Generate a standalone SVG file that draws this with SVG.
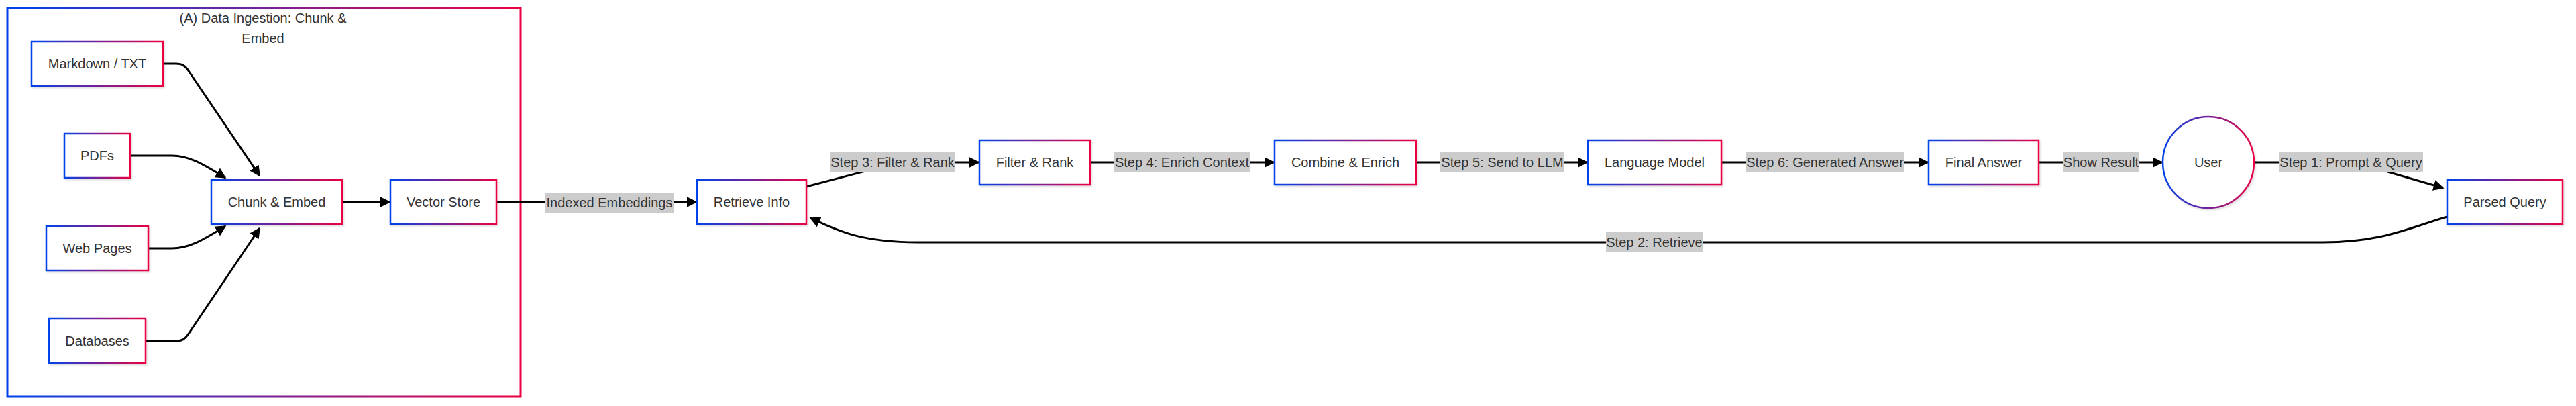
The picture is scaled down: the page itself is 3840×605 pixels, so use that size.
<svg xmlns="http://www.w3.org/2000/svg" width="3840" height="605" viewBox="0 0 3840 605">
<style>
text{font-family:"Liberation Sans",Arial,sans-serif;font-size:20px;fill:#333;text-anchor:middle;dominant-baseline:central}
.node rect,.node circle{fill:#fff;stroke:url(#grad);stroke-width:2.5;filter:url(#shadow)}
.cluster rect{fill:none;stroke:url(#grad);stroke-width:3}
.edge{fill:none;stroke:#000;stroke-width:3;marker-end:url(#arrow)}
.lbl rect{fill:#ccc}
</style>
<defs>
<linearGradient id="grad" x1="0" y1="0" x2="1" y2="0">
<stop offset="0" stop-color="#0042eb"/>
<stop offset="1" stop-color="#eb0042"/>
</linearGradient>
<filter id="shadow" x="-10%" y="-10%" width="130%" height="140%">
<feDropShadow dx="1.5" dy="2" stdDeviation="1.5" flood-color="#000" flood-opacity="0.15"/>
</filter>
<marker id="arrow" viewBox="0 0 10 10" refX="9" refY="5" markerUnits="userSpaceOnUse" markerWidth="16" markerHeight="16" orient="auto">
<path d="M0,0 L10,5 L0,10 z" fill="#000"/>
</marker>
</defs>
<rect width="3840" height="605" fill="#fff"/>
<g id="cluster-ingestion" class="cluster">
<rect x="11" y="12" width="765" height="579"/>
<text x="392" y="27" fill="#222">(A) Data Ingestion: Chunk &amp;</text>
<text x="392" y="57" fill="#222">Embed</text>
</g>
<g id="connectors">
<path class="edge" d="M243,95 L262,95 C272,95 276,98 282,107 L387,262"/>
<path class="edge" d="M194,232 L256,232 C282,232 302,244 336,265"/>
<path class="edge" d="M221,370 L256,370 C282,370 302,358 336,337"/>
<path class="edge" d="M217,508 L262,508 C272,508 276,505 282,496 L387,340"/>
<path class="edge" d="M510,301 L581,301"/>
<path class="edge" d="M740,301 L1038,301"/>
<path class="edge" d="M1202,278 L1290,255 C1310,249 1320,242 1340,242 L1459,242"/>
<path class="edge" d="M1625,242 L1899,242"/>
<path class="edge" d="M2111,242 L2366,242"/>
<path class="edge" d="M2566,242 L2874,242"/>
<path class="edge" d="M3039,242 L3223,242"/>
<path class="edge" d="M3360,242 L3480,242 C3520,242 3540,250 3559,256 L3642,280"/>
<path class="edge" d="M3648,323 C3590,340 3550,361 3463,361 L1368,361 C1280,361 1245,342 1208,325"/>
<g class="lbl"><rect x="813" y="287" width="191" height="30"/><text x="908.5" y="302">Indexed Embeddings</text></g>
<g class="lbl"><rect x="1237" y="227" width="187" height="30"/><text x="1330.5" y="242">Step 3: Filter &amp; Rank</text></g>
<g class="lbl"><rect x="1661" y="227" width="202" height="30"/><text x="1762" y="242">Step 4: Enrich Context</text></g>
<g class="lbl"><rect x="2147" y="227" width="185" height="30"/><text x="2239.5" y="242">Step 5: Send to LLM</text></g>
<g class="lbl"><rect x="2602" y="227" width="237" height="30"/><text x="2720.5" y="242">Step 6: Generated Answer</text></g>
<g class="lbl"><rect x="3075" y="227" width="114" height="30"/><text x="3132" y="242">Show Result</text></g>
<g class="lbl"><rect x="3397" y="227" width="215" height="30"/><text x="3504.5" y="242">Step 1: Prompt &amp; Query</text></g>
<g class="lbl"><rect x="2394" y="346" width="144" height="30"/><text x="2466" y="361">Step 2: Retrieve</text></g>
</g>
<g id="node-markdown" class="node"><rect x="47" y="62" width="196" height="66"/><text x="145" y="95">Markdown / TXT</text></g>
<g id="node-pdfs" class="node"><rect x="96" y="199" width="98" height="66"/><text x="145" y="232">PDFs</text></g>
<g id="node-web" class="node"><rect x="69" y="337" width="152" height="66"/><text x="145" y="370">Web Pages</text></g>
<g id="node-db" class="node"><rect x="73" y="475" width="144" height="66"/><text x="145" y="508">Databases</text></g>
<g id="node-chunk" class="node"><rect x="315" y="268" width="195" height="66"/><text x="412.5" y="301">Chunk &amp; Embed</text></g>
<g id="node-vector" class="node"><rect x="582" y="268" width="158" height="66"/><text x="661" y="301">Vector Store</text></g>
<g id="node-retrieve" class="node"><rect x="1039" y="268" width="163" height="66"/><text x="1120.5" y="301">Retrieve Info</text></g>
<g id="node-filter" class="node"><rect x="1460" y="209" width="165" height="66"/><text x="1542.5" y="242">Filter &amp; Rank</text></g>
<g id="node-combine" class="node"><rect x="1900" y="209" width="211" height="66"/><text x="2005.5" y="242">Combine &amp; Enrich</text></g>
<g id="node-llm" class="node"><rect x="2367" y="209" width="199" height="66"/><text x="2466.5" y="242">Language Model</text></g>
<g id="node-final" class="node"><rect x="2875" y="209" width="164" height="66"/><text x="2957" y="242">Final Answer</text></g>
<g id="node-user" class="node"><circle cx="3292" cy="242" r="68"/><text x="3292" y="242">User</text></g>
<g id="node-parsed" class="node"><rect x="3648" y="268" width="172" height="66"/><text x="3734" y="301">Parsed Query</text></g>
</svg>
